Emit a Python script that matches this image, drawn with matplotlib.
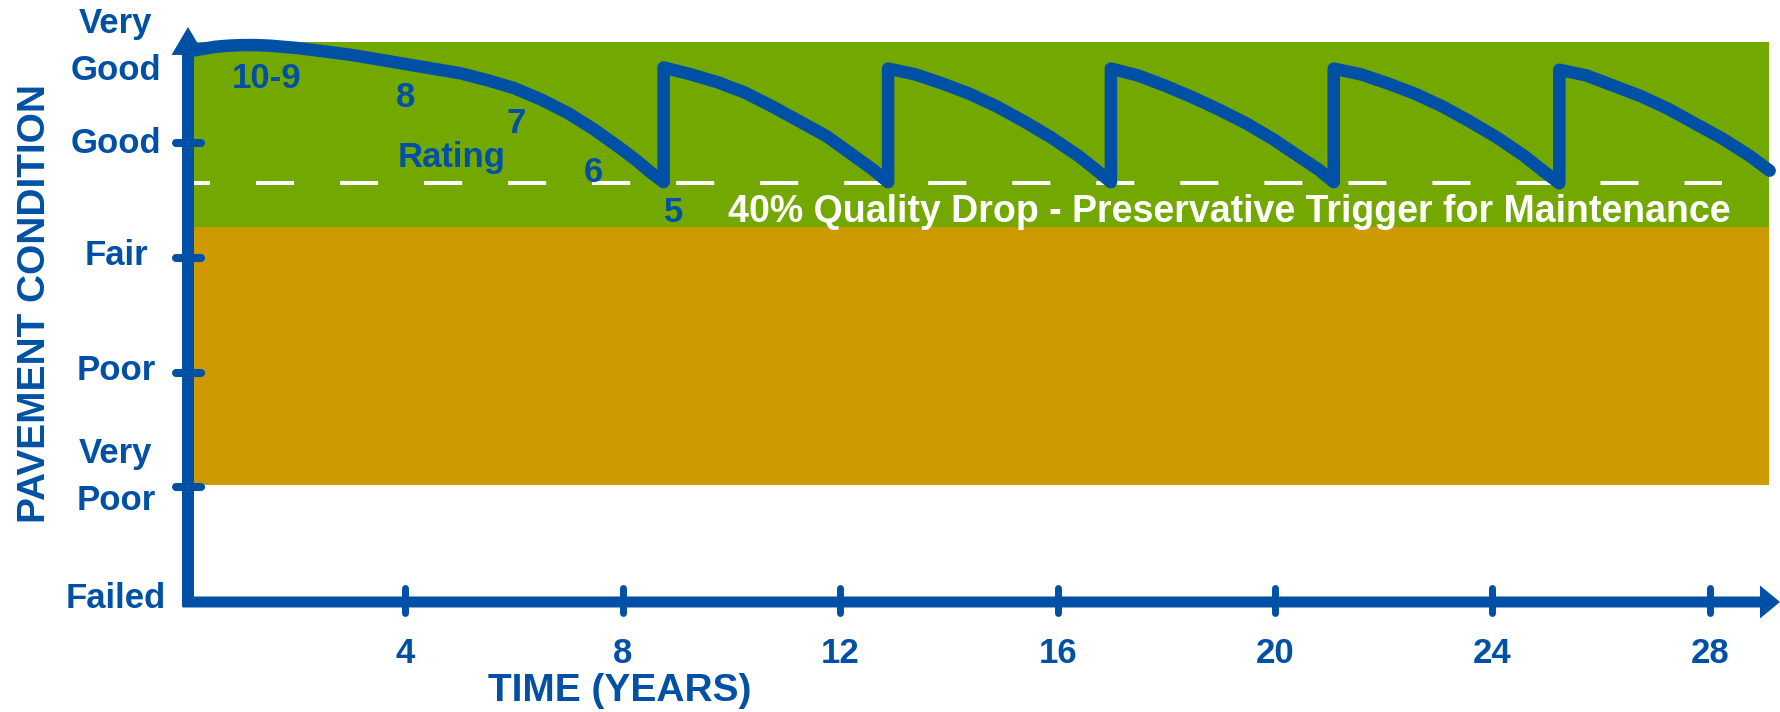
import matplotlib
matplotlib.use("Agg")
import matplotlib.pyplot as plt

plt.rcParams['font.family'] = ['Liberation Sans', 'DejaVu Sans']
plt.rcParams['font.weight'] = 'bold'
plt.rcParams['lines.scale_dashes'] = False

# ---- data -------------------------------------------------------------
# pavement condition over time (0 = Failed ... 5 = Very Good)
years = [0.0, 0.25, 0.5, 0.75, 1.0, 1.25, 1.5, 1.75, 2.0, 2.5, 3.0, 3.5,
         4.0, 4.5, 5.0, 5.5, 6.0, 6.5, 7.0, 7.5, 8.0, 8.25, 8.5, 8.75,
         8.75, 9.25, 9.75, 10.25, 10.75, 11.25, 11.75, 12.25, 12.6, 12.88,
         12.88, 13.38, 13.88, 14.38, 14.88, 15.38, 15.88, 16.38, 16.7, 16.98,
         16.98, 17.48, 17.98, 18.48, 18.98, 19.48, 19.98, 20.48, 20.8, 21.08,
         21.08, 21.58, 22.08, 22.58, 23.08, 23.58, 24.08, 24.58, 24.9, 25.23,
         25.23, 25.73, 26.23, 26.73, 27.23, 27.73, 28.23, 28.73, 29.1]
condition = [4.80, 4.82, 4.84, 4.85, 4.855, 4.855, 4.85, 4.84, 4.83, 4.80,
             4.77, 4.73, 4.69, 4.65, 4.61, 4.55, 4.48, 4.38, 4.26, 4.11,
             3.94, 3.85, 3.75, 3.66,
             4.66, 4.60, 4.53, 4.44, 4.32, 4.19, 4.06, 3.89, 3.77, 3.66,
             4.65, 4.60, 4.52, 4.43, 4.32, 4.19, 4.05, 3.89, 3.77, 3.66,
             4.65, 4.59, 4.50, 4.40, 4.29, 4.17, 4.03, 3.87, 3.77, 3.66,
             4.65, 4.60, 4.52, 4.43, 4.32, 4.19, 4.05, 3.89, 3.77, 3.65,
             4.64, 4.59, 4.50, 4.41, 4.30, 4.17, 4.04, 3.89, 3.76]

good_band = (3.27, 4.88)       # green zone
fair_band = (1.02, 3.27)       # amber zone
band_end_year = 29.09
trigger_level = 3.65           # 40% quality drop

condition_levels = [5, 4, 3, 2, 1, 0]
condition_labels = ['Very\nGood', 'Good', 'Fair', 'Poor', 'Very\nPoor', 'Failed']
tick_levels = [1, 2, 3, 4]
year_ticks = [4, 8, 12, 16, 20, 24, 28]

rating_labels = ['10-9', '8', '7', '6', '5']

# ---- style ------------------------------------------------------------
BLUE = '#0050A5'
GREEN = '#73A800'
AMBER = '#CC9900'

fig = plt.figure(figsize=(17.8, 7.12), dpi=100)
ax = fig.add_axes([0, 0, 1, 1])
ax.set_xlim(-3.459, 29.29)
ax.set_ylim(-0.959, 5.248)
ax.axis('off')

# condition zones
ax.fill_between([0, band_end_year], *good_band, color=GREEN, lw=0, zorder=1)
ax.fill_between([0, band_end_year], *fair_band, color=AMBER, lw=0, zorder=1)

# maintenance trigger line
ax.plot([-0.294, 28.22], [trigger_level, trigger_level], color='white',
        lw=2.9, dashes=(27.4, 33.1), solid_capstyle='butt',
        dash_capstyle='butt', zorder=2)

# condition curve
ax.plot(years, condition, color=BLUE, lw=9, solid_joinstyle='round',
        solid_capstyle='round', zorder=3)

# axes with arrowheads
ax.arrow(0, -0.04, 0, 5.013 + 0.04, width=12 / 54.35, head_width=33 / 54.35,
         head_length=28 / 114.7, length_includes_head=True, color=BLUE,
         lw=0, zorder=4)
ax.arrow(-0.1, 0, 29.29 + 0.1, 0, width=11 / 114.7, head_width=33 / 114.7,
         head_length=20 / 54.35, length_includes_head=True, color=BLUE,
         lw=0, zorder=4)

for yv in tick_levels:
    ax.plot([-0.22, 0.24], [yv, yv], color=BLUE, lw=5.8,
            solid_capstyle='round', zorder=4)
for xv in year_ticks:
    ax.plot([xv, xv], [-0.10, 0.118], color=BLUE, lw=5.0,
            solid_capstyle='round', zorder=4)

# tick labels (baseline of the last line of each label)
label_baselines = {'Very\nGood': 4.551, 'Good': 3.915, 'Fair': 2.938,
                   'Poor': 1.935, 'Very\nPoor': 0.802, 'Failed': -0.052}
for lvl, lab in zip(condition_levels, condition_labels):
    ax.text(-1.325, label_baselines[lab], lab, ha='center', va='baseline',
            multialignment='center', linespacing=1.55, fontsize=25,
            color=BLUE, fontweight='bold', zorder=5)
for xv in year_ticks:
    ax.text(xv, -0.53, str(xv), ha='center', va='baseline', fontsize=25,
            color=BLUE, fontweight='bold', zorder=5)

ax.text(7.95, -0.86, 'TIME (YEARS)', ha='center', va='baseline',
        fontsize=28, color=BLUE, fontweight='bold')
ax.text(-2.815, 2.598, 'PAVEMENT CONDITION', ha='center', va='center',
        rotation=90, fontsize=28, color=BLUE, fontweight='bold')

# rating annotations along the first curve
rating_pos = [(1.454, 4.48), (4.01, 4.316), (6.035, 4.089),
              (7.452, 3.662), (8.94, 3.313)]
for lab, (xp, yp) in zip(rating_labels, rating_pos):
    ax.text(xp, yp, lab, ha='center', va='baseline', fontsize=25,
            color=BLUE, fontweight='bold', zorder=5)
ax.text(4.857, 3.792, 'Rating', ha='center', va='baseline', fontsize=25,
        color=BLUE, fontweight='bold', zorder=5)

ax.text(9.935, 3.313, '40% Quality Drop - Preservative Trigger for Maintenance',
        ha='left', va='baseline', fontsize=27, color='white',
        fontweight='bold', zorder=5)

fig.savefig('out.png', dpi=100, facecolor='white')
